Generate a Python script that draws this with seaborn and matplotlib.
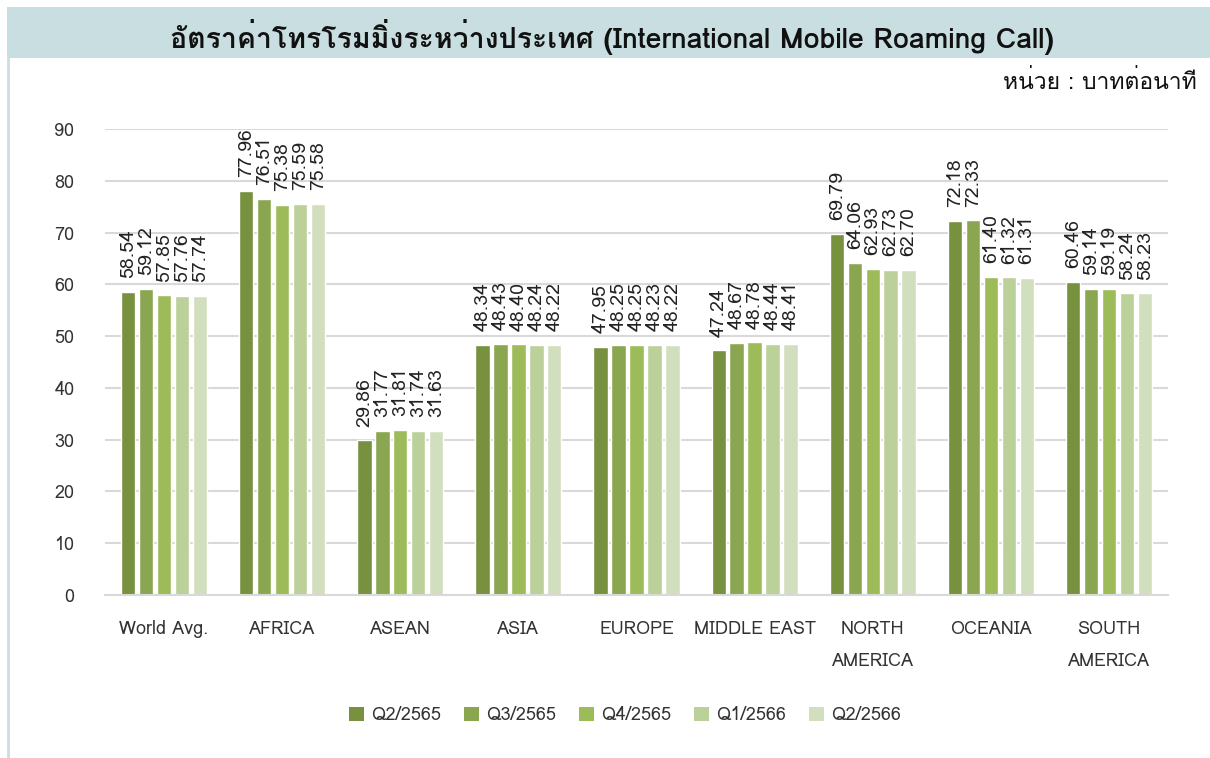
import matplotlib
matplotlib.use("Agg")
import matplotlib.pyplot as plt
from matplotlib import font_manager as fm
from matplotlib.ft2font import FT2Font
from matplotlib.patches import Rectangle
from matplotlib.lines import Line2D
import seaborn as sns
import pandas as pd

categories = ["World Avg.", "AFRICA", "ASEAN", "ASIA", "EUROPE", "MIDDLE EAST",
              "NORTH\nAMERICA", "OCEANIA", "SOUTH\nAMERICA"]
quarters = ["Q2/2565", "Q3/2565", "Q4/2565", "Q1/2566", "Q2/2566"]
q2_2565 = [58.54, 77.96, 29.86, 48.34, 47.95, 47.24, 69.79, 72.18, 60.46]
q3_2565 = [59.12, 76.51, 31.77, 48.43, 48.25, 48.67, 64.06, 72.33, 59.14]
q4_2565 = [57.85, 75.38, 31.81, 48.40, 48.25, 48.78, 62.93, 61.40, 59.19]
q1_2566 = [57.76, 75.59, 31.74, 48.24, 48.23, 48.44, 62.73, 61.32, 58.24]
q2_2566 = [57.74, 75.58, 31.63, 48.22, 48.22, 48.41, 62.70, 61.31, 58.23]
yticks = [0, 10, 20, 30, 40, 50, 60, 70, 80, 90]
title = "อัตราค่าโทรโรมมิ่งระหว่างประเทศ (International Mobile Roaming Call)"
unit = "หน่วย : บาทต่อนาที"

colors = ["#77913F", "#8BA650", "#9DBB59", "#BCD09A", "#D2DFBF"]

# find a font that has Thai glyphs
thai_family = None
for f in fm.fontManager.ttflist:
    try:
        ft = FT2Font(f.fname)
        if ft.get_char_index(ord("ก")) != 0 and ft.get_char_index(ord("A")) != 0:
            thai_family = f.name
            break
    except Exception:
        continue

sns.set_theme(style="white")
fams = ([thai_family] if thai_family else []) + ["Noto Sans", "DejaVu Sans"]
plt.rcParams["font.family"] = fams

rows = []
for q, vals in zip(quarters, [q2_2565, q3_2565, q4_2565, q1_2566, q2_2566]):
    for c, v in zip(categories, vals):
        rows.append({"Region": c, "Quarter": q, "Value": v})
df = pd.DataFrame(rows)

fig = plt.figure(figsize=(12.1, 7.58), dpi=100)
ax = fig.add_axes([105 / 1210, 1 - 595 / 758, (1168 - 105) / 1210, (595 - 129) / 758])

sns.barplot(data=df, x="Region", y="Value", hue="Quarter", order=categories,
            hue_order=quarters, palette=colors, width=0.76, gap=0.2,
            ax=ax, legend=False, saturation=1)

for cont in ax.containers:
    ax.bar_label(cont, fmt="%.2f", rotation=90, padding=10, fontsize=14,
                 color="#222222")

ax.set_ylim(0, 90)
ax.set_yticks(yticks)
ax.set_xlim(-0.5, len(categories) - 0.5)
ax.set_xlabel("")
ax.set_ylabel("")
ax.grid(axis="y", color="#D9D9D9", linewidth=1.5)
ax.set_axisbelow(True)
for s in ["top", "right", "left"]:
    ax.spines[s].set_visible(False)
ax.spines["bottom"].set_color("#D9D9D9")
ax.spines["bottom"].set_linewidth(1.5)
ax.tick_params(axis="y", length=0, pad=22, labelsize=13, labelcolor="#333333")
ax.tick_params(axis="x", length=0, pad=18, labelsize=13, labelcolor="#333333")
for lbl in ax.get_xticklabels():
    lbl.set_linespacing(2.0)
    lbl.set_verticalalignment("top")

# title band and frame
fig.patches.append(Rectangle((7 / 1210, 1 - 58 / 758), 1 - 7 / 1210, 51 / 758,
                             transform=fig.transFigure, facecolor="#C9DEE0",
                             edgecolor="none", zorder=0))
fig.lines.append(Line2D([8 / 1210, 8 / 1210], [0, 1 - 58 / 758],
                        transform=fig.transFigure, color="#C9DEE0", linewidth=2))
fig.text(612 / 1210, 1 - 37 / 758, title, ha="center", va="center",
         fontsize=20.5, fontweight="bold", color="#111111")
fig.text(1197 / 1210, 1 - 82 / 758, unit, ha="right", va="center",
         fontsize=16.5, color="#111111")

handles = [Rectangle((0, 0), 1, 1, facecolor=c, edgecolor="none") for c in colors]
fig.legend(handles, quarters, loc="center", bbox_to_anchor=(625 / 1210, 1 - 715 / 758),
           ncol=5, frameon=False, fontsize=13, handlelength=0.8, handleheight=0.8,
           columnspacing=1.3, handletextpad=0.4, labelcolor="#333333")

fig.savefig("out.png", dpi=100)
